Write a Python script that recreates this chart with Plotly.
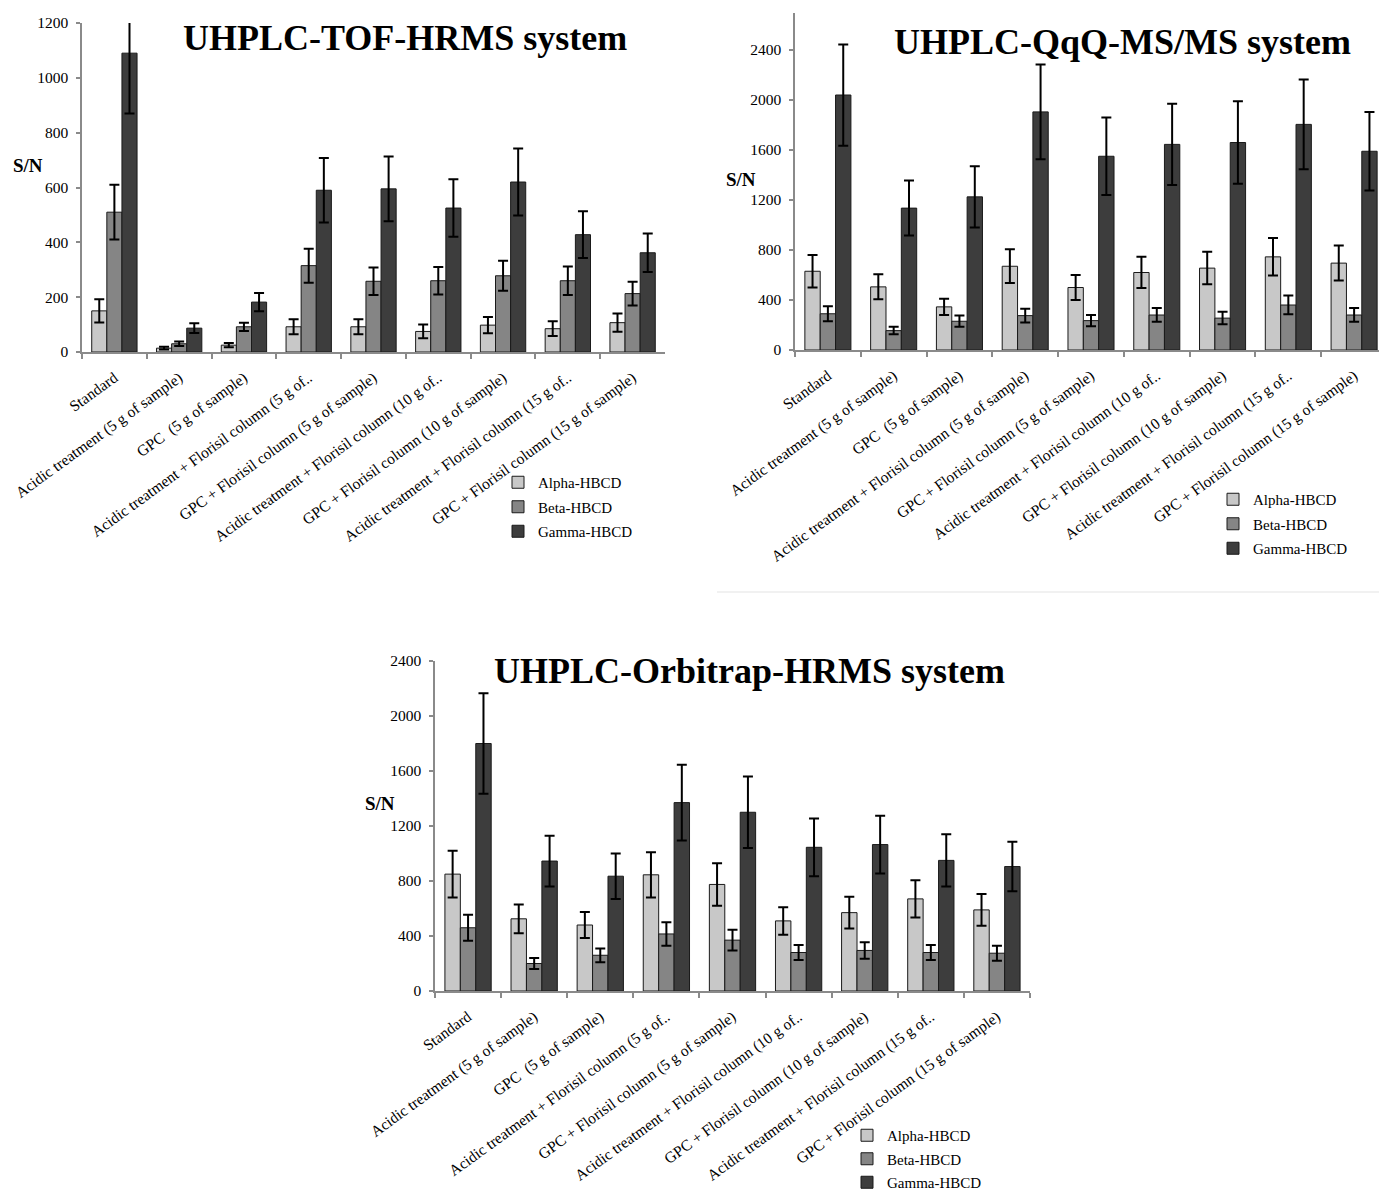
import plotly.graph_objects as go

# ---------------- data ----------------
categories = [
    "Standard",
    "Acidic treatment (5 g of sample)",
    "GPC\u00a0 (5 g of sample)",
    "Acidic treatment + Florisil column (5 g of..",
    "GPC + Florisil column (5 g of sample)",
    "Acidic treatment + Florisil column (10 g of..",
    "GPC + Florisil column (10 g of sample)",
    "Acidic treatment + Florisil column (15 g of..",
    "GPC + Florisil column (15 g of sample)",
]
categories_qqq = [
    "Standard",
    "Acidic treatment (5 g of sample)",
    "GPC\u00a0 (5 g of sample)",
    "Acidic treatment + Florisil column (5 g of sample)",
    "GPC + Florisil column (5 g of sample)",
    "Acidic treatment + Florisil column (10 g of..",
    "GPC + Florisil column (10 g of sample)",
    "Acidic treatment + Florisil column (15 g of..",
    "GPC + Florisil column (15 g of sample)",
]

series_names = ["Alpha-HBCD", "Beta-HBCD", "Gamma-HBCD"]

# UHPLC-TOF-HRMS
tof_alpha = [150, 14, 25, 92, 92, 75, 98, 85, 107]
tof_alpha_err = [42, 5, 8, 27, 27, 25, 30, 27, 33]
tof_beta = [510, 30, 92, 315, 258, 260, 278, 260, 213]
tof_beta_err = [100, 8, 15, 62, 50, 50, 55, 52, 43]
tof_gamma = [1090, 87, 182, 590, 595, 525, 620, 428, 362]
tof_gamma_err = [220, 18, 33, 118, 118, 105, 122, 85, 70]

# UHPLC-QqQ-MS/MS
qqq_alpha = [630, 505, 345, 670, 500, 620, 655, 745, 695]
qqq_alpha_err = [130, 100, 65, 135, 100, 125, 130, 150, 140]
qqq_beta = [290, 155, 230, 275, 235, 280, 255, 360, 280]
qqq_beta_err = [60, 30, 45, 55, 45, 55, 50, 75, 55]
qqq_gamma = [2040, 1135, 1225, 1905, 1550, 1645, 1660, 1805, 1590]
qqq_gamma_err = [405, 220, 245, 380, 310, 325, 330, 360, 315]

# UHPLC-Orbitrap-HRMS
orb_alpha = [850, 525, 480, 845, 775, 510, 570, 670, 590]
orb_alpha_err = [170, 105, 95, 165, 155, 100, 115, 135, 115]
orb_beta = [460, 200, 260, 415, 370, 280, 295, 280, 275]
orb_beta_err = [95, 40, 50, 85, 75, 55, 60, 55, 55]
orb_gamma = [1800, 945, 835, 1370, 1300, 1045, 1065, 950, 905]
orb_gamma_err = [365, 185, 165, 275, 260, 210, 210, 190, 180]

# ---------------- style ----------------
PAGE_W, PAGE_H = 1387, 1193
OFF = 8  # default page body margin
W, H = PAGE_W - OFF, PAGE_H - OFF
FONT = "Liberation Serif, Times New Roman, serif"
series_colors = ["#c8c8c8", "#858585", "#3d3d3d"]
AXIS_COLOR = "#8a8a8a"


def px_x(p):
    return (p - OFF) / W


def px_y(p):
    return 1 - (p - OFF) / H


panels = [
    dict(xa="x", ya="y", legend="legend", cats=categories,
         vals=[tof_alpha, tof_beta, tof_gamma],
         errs=[tof_alpha_err, tof_beta_err, tof_gamma_err]),
    dict(xa="x2", ya="y2", legend="legend2", cats=categories_qqq,
         vals=[qqq_alpha, qqq_beta, qqq_gamma],
         errs=[qqq_alpha_err, qqq_beta_err, qqq_gamma_err]),
    dict(xa="x3", ya="y3", legend="legend3", cats=categories,
         vals=[orb_alpha, orb_beta, orb_gamma],
         errs=[orb_alpha_err, orb_beta_err, orb_gamma_err]),
]

fig = go.Figure()
for k, p in enumerate(panels):
    for i in range(3):
        fig.add_trace(go.Bar(
            x=p["cats"], y=p["vals"][i], name=series_names[i],
            xaxis=p["xa"], yaxis=p["ya"], legend=p["legend"],
            legendgroup="g%d_%d" % (k, i),
            marker=dict(color=series_colors[i], line=dict(color="#1a1a1a", width=1)),
            error_y=dict(type="data", array=p["errs"][i], visible=True,
                         color="black", thickness=2, width=5),
        ))


def xaxis_cfg(d0, d1, anchor):
    return dict(domain=[d0, d1], anchor=anchor, type="category",
                automargin=False,
                showline=True, linecolor=AXIS_COLOR, linewidth=1.5,
                ticks="outside", tickson="boundaries", ticklen=5,
                tickcolor=AXIS_COLOR, tickwidth=1.5, tickangle=-36,
                ticklabelstandoff=9,
                tickfont=dict(family=FONT, size=15.5, color="black"),
                showgrid=False, zeroline=False, fixedrange=True)


def yaxis_cfg(d0, d1, anchor, rng, tv):
    return dict(domain=[d0, d1], anchor=anchor, range=rng, tickvals=tv,
                automargin=False,
                showline=True, linecolor=AXIS_COLOR, linewidth=1.5,
                ticks="outside", ticklen=4, tickcolor=AXIS_COLOR, tickwidth=1.5,
                ticklabelstandoff=5,
                tickfont=dict(family=FONT, size=15.5, color="black"),
                showgrid=False, zeroline=False, fixedrange=True)


tof_ticks = [0, 200, 400, 600, 800, 1000, 1200]
big_ticks = [0, 400, 800, 1200, 1600, 2000, 2400]


def legend_cfg(xp, yp, gap=2):
    return dict(x=px_x(xp), y=px_y(yp), xanchor="left", yanchor="top",
                font=dict(family=FONT, size=15, color="black"),
                bgcolor="rgba(0,0,0,0)", traceorder="grouped",
                tracegroupgap=gap)


fig.update_layout(
    width=W, height=H, autosize=False,
    margin=dict(l=0, r=0, t=0, b=0, autoexpand=False),
    paper_bgcolor="white", plot_bgcolor="white",
    barmode="group", bargap=0.3, bargroupgap=0,
    font=dict(family=FONT, color="black"),
    xaxis=xaxis_cfg(px_x(82), px_x(665), "y"),
    yaxis=yaxis_cfg(px_y(352), px_y(23), "x", [0, 1200], tof_ticks),
    xaxis2=xaxis_cfg(px_x(795), 1.0, "y2"),
    yaxis2=yaxis_cfg(px_y(350), px_y(12.5), "x2", [0, 2700], big_ticks),
    xaxis3=xaxis_cfg(px_x(435), px_x(1030), "y3"),
    yaxis3=yaxis_cfg(px_y(991), px_y(661), "x3", [0, 2400], big_ticks),
    legend=legend_cfg(498, 466),
    legend2=legend_cfg(1213, 483),
    legend3=legend_cfg(847, 1119, gap=1),
    showlegend=True,
)

titles = [
    ("UHPLC-TOF-HRMS system", 405, 38),
    ("UHPLC-QqQ-MS/MS system", 1122, 42),
    ("UHPLC-Orbitrap-HRMS system", 749, 671),
]
for t, xp, yp in titles:
    fig.add_annotation(text="<b>%s</b>" % t, x=px_x(xp), y=px_y(yp),
                       xref="paper", yref="paper", showarrow=False,
                       xanchor="center", yanchor="middle",
                       font=dict(family=FONT, size=36, color="black"))

for xp, yp in [(28, 165), (741, 180), (380, 803)]:
    fig.add_annotation(text="<b>S/N</b>", x=px_x(xp), y=px_y(yp),
                       xref="paper", yref="paper", showarrow=False,
                       xanchor="center", yanchor="middle",
                       font=dict(family=FONT, size=19, color="black"))

# faint chart-area border under the QqQ panel
fig.add_shape(type="line", xref="paper", yref="paper",
              x0=px_x(717), x1=1.0, y0=px_y(592), y1=px_y(592),
              line=dict(color="#ececec", width=1.5))

fig.write_html("out.html")
